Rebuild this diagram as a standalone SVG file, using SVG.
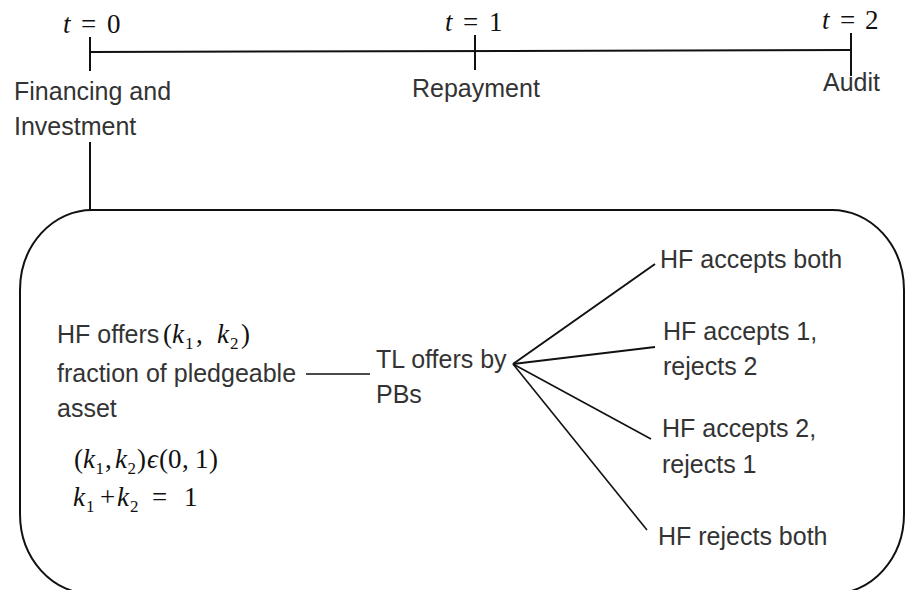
<svg xmlns="http://www.w3.org/2000/svg" width="906" height="590" viewBox="0 0 906 590">
<style>
.lbl{font-family:"Liberation Sans",Arial,sans-serif;font-size:25px;fill:#333}
.m{font-family:"Liberation Serif","Times New Roman",serif;font-size:27px;fill:#111}
.i{font-style:italic}
.s{font-size:17px}
.ln{stroke:#111;stroke-width:2;fill:none}
.thin{stroke:#111;stroke-width:1.6;fill:none}
</style>
<rect width="906" height="590" fill="#fff"/>
<g id="timeline">
<line class="ln" x1="90" y1="52" x2="851" y2="50"/>
</g>
<g id="t0">
<line class="ln" x1="90" y1="37" x2="90" y2="71"/>
<text class="m" y="33"><tspan class="i" x="63">t</tspan><tspan x="81">=</tspan><tspan x="107">0</tspan></text>
<text class="lbl" x="14" y="100">Financing and</text>
<text class="lbl" x="14" y="135">Investment</text>
</g>
<g id="t1">
<line class="ln" x1="475" y1="35" x2="475" y2="70"/>
<text class="m" y="31"><tspan class="i" x="445">t</tspan><tspan x="463">=</tspan><tspan x="489">1</tspan></text>
<text class="lbl" x="412" y="97">Repayment</text>
</g>
<g id="t2">
<line class="ln" x1="851" y1="33" x2="851" y2="76"/>
<text class="m" y="29"><tspan class="i" x="822">t</tspan><tspan x="840">=</tspan><tspan x="865">2</tspan></text>
<text class="lbl" x="823" y="91">Audit</text>
</g>
<g id="box">
<rect class="ln" x="20" y="210" width="884" height="384" rx="72" ry="80"/>
</g>
<g id="hf-offers">
<text class="lbl" x="57" y="343">HF offers</text>
<text class="m" y="343"><tspan x="163">(</tspan><tspan class="i" x="172">k</tspan><tspan class="s" x="185" dy="6">1</tspan><tspan x="196" dy="-6">,</tspan><tspan class="i" x="217">k</tspan><tspan class="s" x="230" dy="6">2</tspan><tspan x="241" dy="-6">)</tspan></text>
<text class="lbl" x="57" y="382">fraction of pledgeable</text>
<text class="lbl" x="57" y="417">asset</text>
<text class="m" y="468"><tspan x="74">(</tspan><tspan class="i" x="83">k</tspan><tspan class="s" x="95.5" dy="6">1</tspan><tspan x="105" dy="-6">,</tspan><tspan class="i" x="115">k</tspan><tspan class="s" x="127.5" dy="6">2</tspan><tspan x="137" dy="-6">)</tspan><tspan class="i" x="147">ϵ</tspan><tspan x="159">(</tspan><tspan x="168">0</tspan><tspan x="182">,</tspan><tspan x="195">1</tspan><tspan x="209">)</tspan></text>
<text class="m" y="506"><tspan class="i" x="73">k</tspan><tspan class="s" x="86" dy="6">1</tspan><tspan x="100" dy="-6">+</tspan><tspan class="i" x="117">k</tspan><tspan class="s" x="130" dy="6">2</tspan><tspan x="152" dy="-6">=</tspan><tspan x="184">1</tspan></text>
</g>
<g id="tl-offers">
<text class="lbl" x="376" y="368">TL offers by</text>
<text class="lbl" x="376" y="403">PBs</text>
</g>
<g id="accept-both"><text class="lbl" x="660" y="268">HF accepts both</text></g>
<g id="accept-1">
<text class="lbl" x="663" y="340">HF accepts 1,</text>
<text class="lbl" x="663" y="375">rejects 2</text>
</g>
<g id="accept-2">
<text class="lbl" x="662" y="437">HF accepts 2,</text>
<text class="lbl" x="662" y="473">rejects 1</text>
</g>
<g id="reject-both"><text class="lbl" x="658" y="545">HF rejects both</text></g>
<g id="connectors">
<line class="ln" x1="90" y1="142" x2="90" y2="210"/>
<line class="thin" x1="306" y1="374" x2="370" y2="374"/>
<line class="ln" x1="513" y1="364" x2="655" y2="264"/>
<line class="ln" x1="513" y1="364" x2="655" y2="347"/>
<line class="thin" x1="513" y1="364" x2="651" y2="439"/>
<line class="thin" x1="513" y1="364" x2="647" y2="530"/>
</g>
</svg>
